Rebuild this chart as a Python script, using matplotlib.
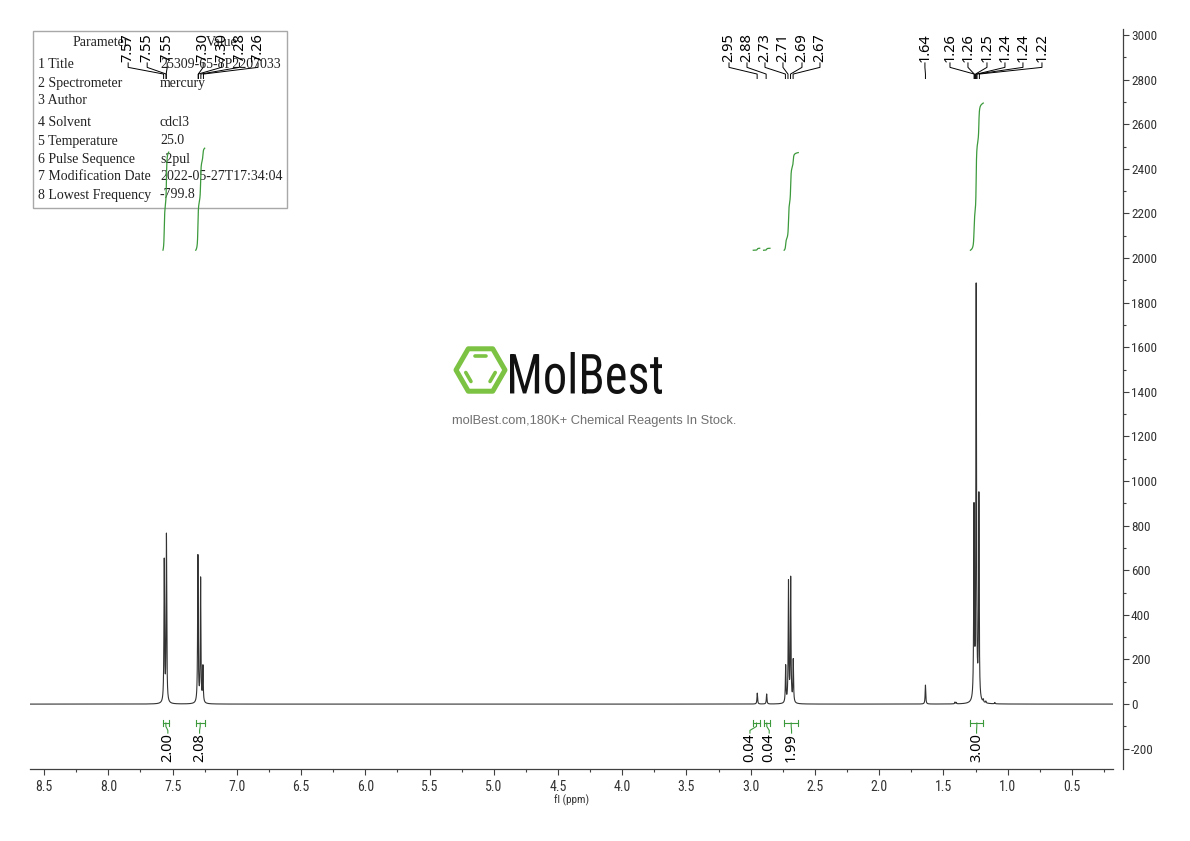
import numpy as np
import matplotlib
matplotlib.use("Agg")
import matplotlib.pyplot as plt
from matplotlib import font_manager
from matplotlib.lines import Line2D
from matplotlib.patches import Rectangle, Polygon, PathPatch
from matplotlib.textpath import TextPath
from matplotlib.ticker import MultipleLocator, FormatStrFormatter
from matplotlib.transforms import Affine2D

# ------------------------------------------------------------------
# Data
# ------------------------------------------------------------------

peak_ppm = [7.565, 7.548, 7.303, 7.282, 7.264,
            2.949, 2.876, 2.728, 2.706, 2.689, 2.669,
            1.640, 1.262, 1.245, 1.224,
            1.41, 1.40, 1.19, 1.17, 1.10]
peak_height = [635, 750, 660, 555, 160,
               49, 45, 165, 540, 555, 190,
               85, 850, 1850, 915,
               8, 6, 12, 8, 6]

label_text = ["7.57", "7.55", "7.55", "7.30", "7.30", "7.28", "7.26",
              "2.95", "2.88", "2.73", "2.71", "2.69", "2.67",
              "1.64",
              "1.26", "1.26", "1.25", "1.24", "1.24", "1.22"]
label_ppm = [7.57, 7.55, 7.55, 7.30, 7.30, 7.28, 7.26,
             2.95, 2.88, 2.73, 2.71, 2.69, 2.67,
             1.64,
             1.26, 1.26, 1.25, 1.24, 1.24, 1.22]

integral_ranges = [(7.575, 7.53), (7.32, 7.25), (2.98, 2.93), (2.90, 2.85),
                   (2.74, 2.63), (1.29, 1.19)]
integral_values = [2.00, 2.08, 0.04, 0.04, 1.99, 3.00]

param_names = ["Title", "Spectrometer", "Author", "Solvent", "Temperature",
               "Pulse Sequence", "Modification Date", "Lowest Frequency"]
param_values = ["25309-65-8P2207033", "mercury", "", "cdcl3", "25.0",
                "s2pul", "2022-05-27T17:34:04", "-799.8"]

# ------------------------------------------------------------------
# Layout (positions of the spread-out labels, in ppm)
# ------------------------------------------------------------------

label_pos = [7.846, 7.698, 7.542, 7.262, 7.12, 6.98, 6.835,
             3.169, 3.029, 2.889, 2.749, 2.601, 2.461,
             1.644,
             1.449, 1.309, 1.161, 1.021, 0.881, 0.733]
integral_label_pos = [7.537, 7.29, 3.006, 2.856, 2.682, 1.242]
param_rows_y = [65, 83, 101, 123, 141, 159, 177, 195]

GREEN = "#3c9a3c"
LOGO_GREEN = "#7cc243"
LINE = "#333333"
W, H = 1190, 841


def pick_font(*names):
    have = {f.name for f in font_manager.fontManager.ttflist}
    for n in names:
        if n in have:
            return n
    return "DejaVu Sans"


NARROW = pick_font("Liberation Sans Narrow", "Roboto Condensed", "DejaVu Sans")
LABEL_FONT = pick_font("Noto Sans", "Open Sans", "DejaVu Sans")
SERIF = pick_font("Liberation Serif", "DejaVu Serif")
SANS = pick_font("Liberation Sans", "DejaVu Sans")

fig = plt.figure(figsize=(W / 100, H / 100), dpi=100)
ax = fig.add_axes([30 / W, (H - 769) / H, 1083 / W, 740 / H])
ax.patch.set_visible(False)

# ------------------------------------------------------------------
# Spectrum
# ------------------------------------------------------------------
hwhm = 0.0028
x = np.concatenate([np.linspace(8.61, 0.18, 40000), np.array(peak_ppm)])
x = np.sort(x)[::-1]
y = np.zeros_like(x)
for p, h in zip(peak_ppm, peak_height):
    y += h / (1 + ((x - p) / hwhm) ** 2)
ax.plot(x, y, color=LINE, lw=0.8, zorder=2)

# peak labels at top with bent connectors
for txt, foot, pos in zip(label_text, label_ppm, label_pos):
    ax.plot([pos, pos, foot, foot], [2875, 2855, 2825, 2805],
            color="black", lw=0.7, zorder=3)
    ax.text(pos, 2878, txt, rotation=90, ha="center", va="bottom",
            fontsize=10.5, family=LABEL_FONT, zorder=4)

# integral curves and labels
base = 2035
per_h = 220
for (a, b), val, lpos in zip(integral_ranges, integral_values, integral_label_pos):
    m = (x <= a) & (x >= b)
    seg_x = x[m]
    cum = np.cumsum(y[m])
    cum = cum / cum[-1] * val * per_h
    ax.plot(seg_x, base + cum, color=GREEN, lw=0.9, zorder=3)

    c = (a + b) / 2
    ax.plot([a, b], [-85, -85], color=GREEN, lw=0.8)
    ax.plot([a, a], [-73, -97], color=GREEN, lw=0.8)
    ax.plot([b, b], [-73, -97], color=GREEN, lw=0.8)
    ax.plot([c, c, lpos, lpos], [-85, -100, -118, -130], color=GREEN, lw=0.8)
    ax.text(lpos, -132, f"{val:.2f}", rotation=90, ha="center", va="top",
            fontsize=10.5, family=LABEL_FONT)

# ------------------------------------------------------------------
# Axes styling
# ------------------------------------------------------------------
ax.set_xlim(8.61, 0.18)
ax.set_ylim(-291, 3027)
for s in ("top", "left"):
    ax.spines[s].set_visible(False)
ax.spines["right"].set_position(("outward", 7))
for s in ("bottom", "right"):
    ax.spines[s].set_color("#404040")
    ax.spines[s].set_linewidth(0.9)

ax.xaxis.set_major_locator(MultipleLocator(0.5))
ax.xaxis.set_minor_locator(MultipleLocator(0.25))
ax.xaxis.set_major_formatter(FormatStrFormatter("%.1f"))
ax.yaxis.tick_right()
ax.yaxis.set_major_locator(MultipleLocator(200))
ax.yaxis.set_minor_locator(MultipleLocator(100))
ax.yaxis.set_major_formatter(FormatStrFormatter("%d"))
ax.tick_params(which="major", length=4, width=0.8, color="#404040",
               labelsize=10, labelcolor="#333333")
ax.tick_params(which="minor", length=2.5, width=0.8, color="#404040")
ax.tick_params(axis="x", which="major", pad=4)
ax.tick_params(axis="y", which="major", pad=2, labelsize=9.5)
for lab in ax.get_xticklabels() + ax.get_yticklabels():
    lab.set_family(NARROW)
ax.set_xlabel("fl (ppm)", fontsize=8, family=NARROW, labelpad=0, color="#333333")

# ------------------------------------------------------------------
# Parameter table (display pixels, behind the axes content)
# ------------------------------------------------------------------
fig.add_artist(Rectangle((33, H - 208), 254, 177, transform=Affine2D(),
                         fill=False, ec="#a8a8a8", lw=1, zorder=-2))
fig.text(101 / W, 1 - 43 / H, "Parameter", ha="center", va="center",
         fontsize=10, family=SERIF, color="#222222", zorder=-1)
fig.text(222 / W, 1 - 43 / H, "Value", ha="center", va="center",
         fontsize=10, family=SERIF, color="#222222", zorder=-1)
for i, (n, v, ry) in enumerate(zip(param_names, param_values, param_rows_y)):
    fig.text(38 / W, 1 - ry / H, f"{i + 1} {n}", ha="left", va="center",
             fontsize=10, family=SERIF, color="#222222", zorder=-1)
    fig.text(160 / W, 1 - ry / H, v, ha="left", va="center",
             fontsize=10, family=SERIF, color="#222222", zorder=-1)

# ------------------------------------------------------------------
# Watermark
# ------------------------------------------------------------------
cx, cy, R = 480.5, H - 370, 24.5
ang = np.deg2rad(np.arange(0, 360, 60))
hexv = np.c_[cx + R * np.cos(ang), cy + R * np.sin(ang)]
fig.add_artist(Polygon(hexv, closed=True, fill=False, ec=LOGO_GREEN, lw=3.6,
                       joinstyle="round", transform=Affine2D()))
r_in = 0.66 * R
for a0, a1 in ((60, 120), (180, 240), (300, 360)):
    a0, a1 = np.deg2rad(a0), np.deg2rad(a1)
    p0 = np.array([cx + r_in * np.cos(a0), cy + r_in * np.sin(a0)])
    p1 = np.array([cx + r_in * np.cos(a1), cy + r_in * np.sin(a1)])
    q0 = p0 + 0.18 * (p1 - p0)
    q1 = p0 + 0.82 * (p1 - p0)
    fig.add_artist(Line2D([q0[0], q1[0]], [q0[1], q1[1]], color=LOGO_GREEN,
                          lw=2.6, solid_capstyle="round", transform=Affine2D()))

tp = TextPath((0, 0), "MolBest", size=100,
              prop=font_manager.FontProperties(family=NARROW))
ext = tp.get_extents()
tr = (Affine2D().translate(-ext.x0, -ext.y0)
      .scale(152 / ext.width, 42 / ext.height)
      .translate(510, H - 394))
fig.add_artist(PathPatch(tp, transform=tr, fc="#111111", ec="none"))
fig.text(594 / W, 1 - 421 / H, "molBest.com,180K+ Chemical Reagents In Stock.",
         ha="center", va="center", fontsize=9.3, family=SANS, color="#707070")

fig.savefig("out.png", dpi=100)
